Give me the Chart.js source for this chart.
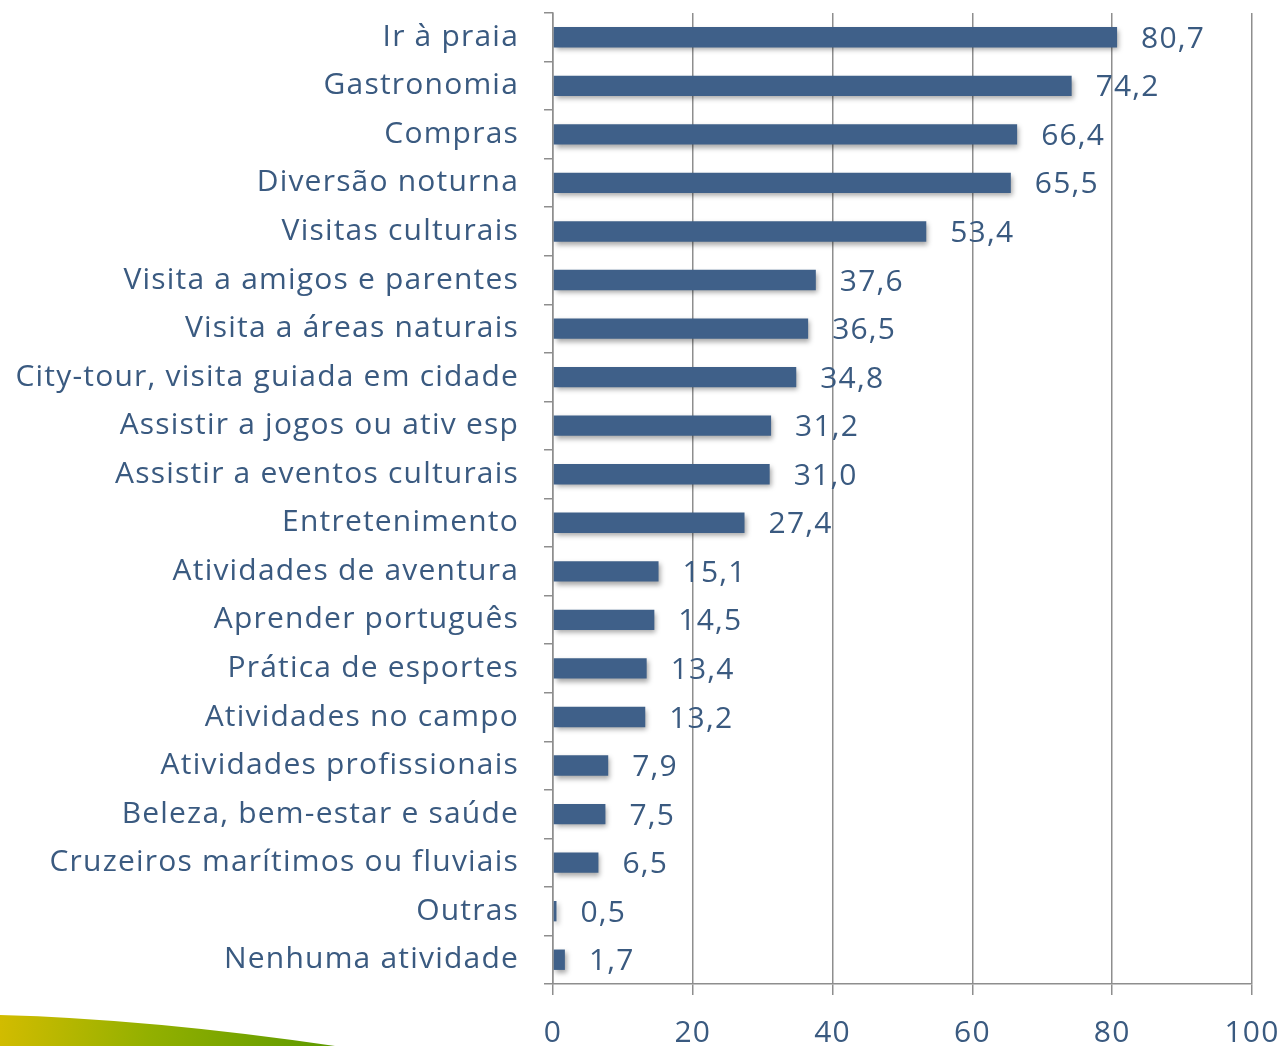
<!DOCTYPE html>
<html>
<head>
<meta charset="utf-8">
<script src="https://cdn.jsdelivr.net/npm/chart.js@4/dist/chart.umd.min.js"></script>
<style>
html,body{margin:0;padding:0;background:#fff;}
#wrap{width:1282px;height:1046px;position:relative;}
</style>
</head>
<body>
<div id="wrap"><canvas id="c" width="1282" height="1046"></canvas></div>
<script>
const categories = [
  "Ir à praia","Gastronomia","Compras","Diversão noturna","Visitas culturais",
  "Visita a amigos e parentes","Visita a áreas naturais","City-tour, visita guiada em cidade",
  "Assistir a jogos ou ativ esp","Assistir a eventos culturais","Entretenimento",
  "Atividades de aventura","Aprender português","Prática de esportes","Atividades no campo",
  "Atividades profissionais","Beleza, bem-estar e saúde","Cruzeiros marítimos ou fluviais",
  "Outras","Nenhuma atividade"
];
const values = [80.7,74.2,66.4,65.5,53.4,37.6,36.5,34.8,31.2,31.0,27.4,15.1,14.5,13.4,13.2,7.9,7.5,6.5,0.5,1.7];
const xTicks = [0,20,40,60,80,100];

const TEXT = '#3A5A80';
const BAR = '#3F6089';
const GRID = '#8E8E8E';
const FONT = '"Open Sans", sans-serif';
const FS = 30;
const SPACING = '1.2px';

const spacing = {
  id:'spacing',
  beforeInit(chart){ chart.ctx.letterSpacing = SPACING; },
  beforeUpdate(chart){ chart.ctx.letterSpacing = SPACING; },
  beforeDraw(chart){ chart.ctx.letterSpacing = SPACING; }
};

const swoosh = {
  id:'swoosh',
  beforeDraw(chart){
    const ctx = chart.ctx;
    ctx.save();
    const g = ctx.createLinearGradient(0,1015,330,1046);
    g.addColorStop(0,'#D2BC00');
    g.addColorStop(0.45,'#93B000');
    g.addColorStop(1,'#5E9A00');
    ctx.fillStyle = g;
    ctx.beginPath();
    ctx.moveTo(0,1015);
    ctx.quadraticCurveTo(150,1019,335,1046);
    ctx.lineTo(0,1046);
    ctx.closePath();
    ctx.fill();
    ctx.restore();
  }
};

const shadow = {
  id:'shadow',
  beforeDatasetDraw(chart){
    const ctx = chart.ctx;
    ctx.save();
    ctx.shadowColor = 'rgba(0,0,0,0.35)';
    ctx.shadowBlur = 5;
    ctx.shadowOffsetX = 2;
    ctx.shadowOffsetY = 3;
  },
  afterDatasetDraw(chart){
    chart.ctx.restore();
  }
};

const valueLabels = {
  id:'valueLabels',
  afterDatasetsDraw(chart){
    const ctx = chart.ctx;
    const meta = chart.getDatasetMeta(0);
    ctx.save();
    ctx.fillStyle = TEXT;
    ctx.font = FS + 'px ' + FONT;
    ctx.textAlign = 'left';
    ctx.textBaseline = 'middle';
    meta.data.forEach((bar,i)=>{
      const v = chart.data.datasets[0].data[i];
      ctx.fillText(v.toFixed(1).replace('.',','), bar.x + 24, bar.y + 2);
    });
    ctx.restore();
  }
};

new Chart(document.getElementById('c'), {
  type:'bar',
  data:{
    labels:categories,
    datasets:[{
      data:values,
      backgroundColor:BAR,
      borderWidth:0,
      barPercentage:0.42,
      categoryPercentage:1.0
    }]
  },
  options:{
    indexAxis:'y',
    responsive:false,
    animation:false,
    events:[],
    layout:{padding:{top:13,right:30,left:0,bottom:0}},
    plugins:{legend:{display:false},tooltip:{enabled:false}},
    scales:{
      x:{
        min:0,max:100,
        afterBuildTicks(axis){ axis.ticks = xTicks.map(v=>({value:v})); },
        afterFit(axis){ axis.height = 62; axis.paddingLeft = 0; axis.paddingRight = 0; },
        grid:{color:GRID,lineWidth:1.5,drawOnChartArea:true,drawTicks:true,tickLength:11},
        border:{display:true,color:GRID,width:1.5},
        ticks:{color:TEXT,font:{family:FONT,size:FS},padding:20}
      },
      y:{
        afterFit(axis){ axis.width = 553; axis.paddingTop = 0; axis.paddingBottom = 0; },
        grid:{offset:true,drawOnChartArea:false,drawTicks:true,tickLength:9,color:GRID,lineWidth:1.5},
        border:{display:true,color:GRID,width:1.5},
        ticks:{color:TEXT,font:{family:FONT,size:FS},padding:25,autoSkip:false}
      }
    }
  },
  plugins:[spacing,swoosh,shadow,valueLabels]
});
</script>
</body>
</html>
